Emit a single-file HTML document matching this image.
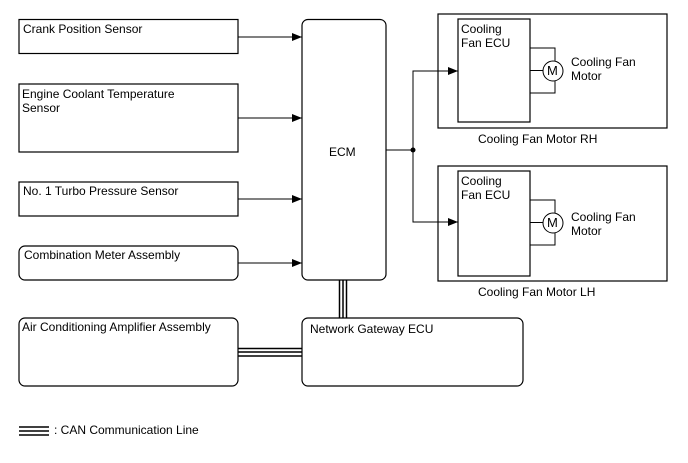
<!DOCTYPE html>
<html><head><meta charset="utf-8"><style>
html,body{margin:0;padding:0;background:#fff;}
svg{display:block;font-family:"Liberation Sans",Arial,sans-serif;font-size:12px;}
</style></head><body>
<svg width="688" height="463" viewBox="0 0 688 463" xmlns="http://www.w3.org/2000/svg">
<defs><marker id="a" markerWidth="10" markerHeight="8" refX="10" refY="4" orient="auto" markerUnits="userSpaceOnUse"><path d="M0,0 L10,4 L0,8 z" fill="#000"/></marker></defs>
<g fill="#fff" stroke="#000" stroke-width="1.2">
<rect x="19" y="19.5" width="219" height="34"/>
<rect x="19" y="84" width="219" height="68"/>
<rect x="19" y="182" width="219" height="34"/>
<rect x="19" y="246" width="219" height="34" rx="6"/>
<rect x="19" y="318" width="219" height="68" rx="6"/>
<rect x="302" y="19.5" width="84" height="260.5" rx="6"/>
<rect x="302" y="318" width="221" height="68" rx="6"/>
<rect x="438" y="14" width="229" height="114"/>
<rect x="458" y="19" width="72" height="103"/>
<rect x="438" y="166" width="229" height="115"/>
<rect x="458" y="171" width="72" height="105"/>
</g>
<g stroke="#000" stroke-width="1" fill="none">
<line x1="238" y1="37" x2="302" y2="37" marker-end="url(#a)"/>
<line x1="238" y1="118" x2="302" y2="118" marker-end="url(#a)"/>
<line x1="238" y1="199" x2="302" y2="199" marker-end="url(#a)"/>
<line x1="238" y1="263" x2="302" y2="263" marker-end="url(#a)"/>
<polyline points="386,150 413,150 413,71 458,71" marker-end="url(#a)"/>
<polyline points="413,150 413,222 458,222" marker-end="url(#a)"/>
<path d="M530,48 H555 V61 M530,70.5 H543 M530,93 H555 V81"/>
<path d="M530,200 H555 V213 M530,222.5 H543 M530,245 H555 V233"/>
<circle cx="553" cy="71" r="10"/>
<circle cx="553" cy="223" r="10"/>
</g>
<circle cx="413" cy="150" r="2.5" fill="#000"/>
<g stroke="#000" stroke-width="1.5">
<line x1="339.5" y1="280" x2="339.5" y2="318"/><line x1="343" y1="280" x2="343" y2="318"/><line x1="346.5" y1="280" x2="346.5" y2="318"/>
<line x1="238" y1="348.5" x2="302" y2="348.5"/><line x1="238" y1="352" x2="302" y2="352"/><line x1="238" y1="356" x2="302" y2="356"/>
<line x1="19" y1="427" x2="49" y2="427"/><line x1="19" y1="431" x2="49" y2="431"/><line x1="19" y1="435" x2="49" y2="435"/>
</g>
<g fill="#000">
<text x="23" y="33">Crank Position Sensor</text>
<text x="22" y="98">Engine Coolant Temperature</text>
<text x="22" y="112">Sensor</text>
<text x="23" y="195">No. 1 Turbo Pressure Sensor</text>
<text x="24" y="259">Combination Meter Assembly</text>
<text x="22" y="331">Air Conditioning Amplifier Assembly</text>
<text x="310" y="333">Network Gateway ECU</text>
<text x="329" y="156">ECM</text>
<text x="461" y="33">Cooling</text><text x="461" y="47">Fan ECU</text>
<text x="461" y="185">Cooling</text><text x="461" y="199">Fan ECU</text>
<text x="571" y="66">Cooling Fan</text><text x="571" y="80">Motor</text>
<text x="571" y="221">Cooling Fan</text><text x="571" y="235">Motor</text>
<text x="478" y="143">Cooling Fan Motor RH</text>
<text x="478" y="296">Cooling Fan Motor LH</text>
<text x="547" y="75" font-size="13">M</text>
<text x="547" y="227" font-size="13">M</text>
<text x="54" y="434">: CAN Communication Line</text>
</g>
</svg>
</body></html>
